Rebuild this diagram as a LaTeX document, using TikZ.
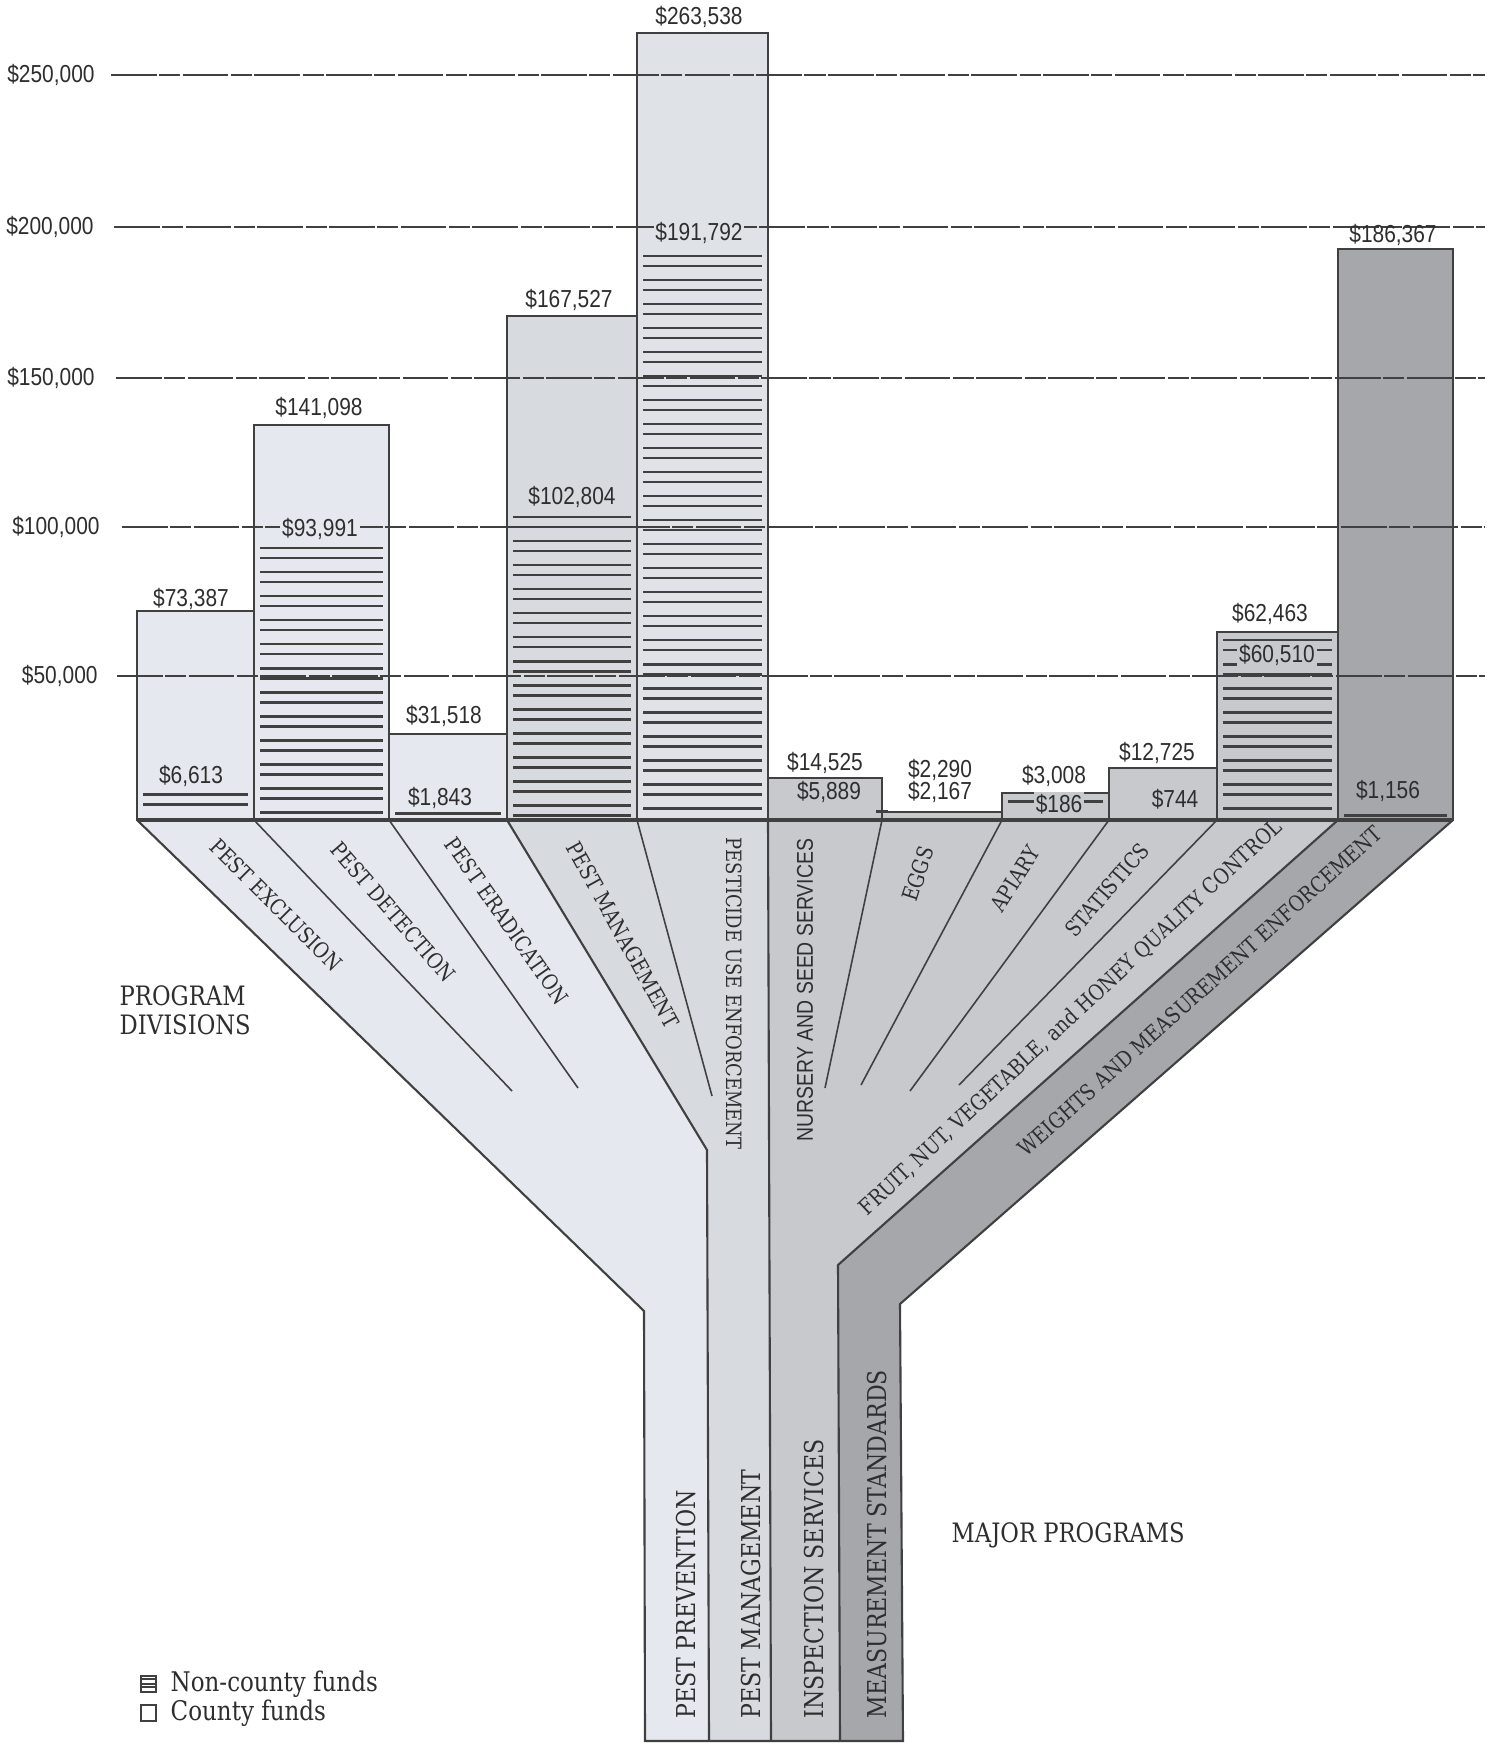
\documentclass[tikz,border=0pt]{standalone}
\usepackage{fontspec}
\setmainfont{DejaVu Serif}
\newfontfamily\valfont[FakeStretch=0.85]{Liberation Sans}
\newfontfamily\labfont[FakeStretch=0.85]{DejaVu Serif}
\usetikzlibrary{positioning}

\definecolor{ink}{HTML}{404040}
\definecolor{textink}{HTML}{2E2E2E}
\definecolor{prevfill}{HTML}{E5E8EE}
\definecolor{mgmtfill}{HTML}{D7DADF}
\definecolor{pestfill}{HTML}{DFE2E7}
\definecolor{inspfill}{HTML}{C7C9CD}
\definecolor{measfill}{HTML}{A5A7AB}

\tikzstyle{barbox} = [draw=ink, line width=0.6pt]
\tikzstyle{hatch} = [draw=ink, line width=0.85pt]
\tikzstyle{outline} = [draw=ink, line width=0.6pt]
\tikzstyle{divider} = [draw=ink, line width=0.45pt]
\tikzstyle{gridline} = [draw=ink, line width=0.4pt, dash pattern=on 13pt off 0.7pt on 6pt off 0.7pt]
\tikzstyle{amount} = [font=\valfont\fontsize{7}{8}\selectfont, text=textink, inner sep=0.5pt]
\tikzstyle{axislabel} = [amount, anchor=east]
\tikzstyle{branch} = [font=\labfont\fontsize{6.2}{7}\selectfont, text=textink, inner sep=0pt]
\tikzstyle{trunk} = [font=\labfont\fontsize{7.4}{8}\selectfont, text=textink, inner sep=0pt, rotate=90, anchor=west]
\tikzstyle{titletext} = [font=\labfont\fontsize{7.6}{8.2}\selectfont, text=textink, align=left, anchor=west, inner sep=0pt]
\tikzstyle{legendtext} = [font=\labfont\fontsize{7.7}{8.2}\selectfont, text=textink, anchor=west, inner sep=0pt]
\tikzstyle{swatch} = [draw=ink, line width=0.5pt, minimum width=1.5mm, minimum height=1.6mm, inner sep=0pt]

\newcommand{\hatchbar}[3]{%
  \foreach \k in {0,...,30}{%
    \pgfmathsetmacro{\ya}{#3+24*\k}%
    \pgfmathsetmacro{\yb}{#3+24*\k+10}%
    \ifdim\ya pt<816pt\relax \draw[hatch] (#1+6,\ya) -- (#2-6,\ya);\fi
    \ifdim\yb pt<816pt\relax \draw[hatch] (#1+6,\yb) -- (#2-6,\yb);\fi
  }%
}

\begin{document}
\begin{tikzpicture}[x=0.1mm, y=-0.1mm]

	\useasboundingbox (0,0) rectangle (1489,1745);
	\fill[white] (0,0) rectangle (1489,1745);

	\coordinate (b0) at (137,820);
	\coordinate (b1) at (254,820);
	\coordinate (b2) at (389,820);
	\coordinate (b3) at (507,820);
	\coordinate (b4) at (637,820);
	\coordinate (b5) at (768,820);
	\coordinate (b6) at (882,820);
	\coordinate (b7) at (1002,820);
	\coordinate (b8) at (1109,820);
	\coordinate (b9) at (1217,820);
	\coordinate (b10) at (1338,820);
	\coordinate (b11) at (1453,820);

	\coordinate (lc) at (644,1311);
	\coordinate (lb) at (645,1741);
	\coordinate (pk) at (707,1150);
	\coordinate (pb) at (709,1741);
	\coordinate (mb) at (771,1741);
	\coordinate (mk) at (838,1265);
	\coordinate (mkb) at (840,1741);
	\coordinate (rc) at (900,1304);
	\coordinate (rb) at (903,1741);

	\coordinate (d1) at (512,1091);
	\coordinate (d2) at (578,1088);
	\coordinate (d4) at (712,1096);
	\coordinate (d6) at (825,1088);
	\coordinate (d7) at (861,1085);
	\coordinate (d8) at (910,1091);
	\coordinate (d9) at (959,1085);

	\fill[prevfill] (b0) -- (b3) -- (pk) -- (pb) -- (lb) -- (lc) -- cycle;
	\fill[mgmtfill] (b3) -- (b5) -- (mb) -- (pb) -- (pk) -- cycle;
	\fill[inspfill] (b5) -- (b10) -- (mk) -- (mkb) -- (mb) -- cycle;
	\fill[measfill] (b10) -- (b11) -- (rc) -- (rb) -- (mkb) -- (mk) -- cycle;

	\filldraw[barbox, fill=prevfill] (b0) rectangle (254,611);
	\filldraw[barbox, fill=prevfill] (b1) rectangle (389,425);
	\filldraw[barbox, fill=prevfill] (b2) rectangle (507,734);
	\filldraw[barbox, fill=mgmtfill] (b3) rectangle (637,316);
	\filldraw[barbox, fill=pestfill] (b4) rectangle (768,33);
	\filldraw[barbox, fill=inspfill] (b5) rectangle (882,778);
	\filldraw[barbox, fill=inspfill] (b6) rectangle (1002,812);
	\filldraw[barbox, fill=inspfill] (b7) rectangle (1109,793);
	\filldraw[barbox, fill=inspfill] (b8) rectangle (1217,768);
	\filldraw[barbox, fill=inspfill] (b9) rectangle (1338,632);
	\filldraw[barbox, fill=measfill] (b10) rectangle (1453,249);

	\hatchbar{137}{254}{794}
	\hatchbar{254}{389}{548}
	\hatchbar{389}{507}{813}
	\hatchbar{507}{637}{517}
	\hatchbar{637}{768}{256}
	\hatchbar{1217}{1338}{640}
	\draw[hatch] (888,811) -- (876,811);
	\draw[hatch] (1008,801) -- (1103,801);
	\draw[hatch] (1344,815) -- (1447,815);

	\draw[outline] (b0) -- (lc) -- (lb) -- (rb) -- (rc) -- (b11);
	\draw[outline] (b3) -- (pk) -- (pb);
	\draw[outline] (b5) -- (mb);
	\draw[outline] (b10) -- (mk) -- (mkb);
	\draw[outline, line width=1pt] (b0) -- (b11);

	\draw[divider] (b1) -- (d1);
	\draw[divider] (b2) -- (d2);
	\draw[divider] (b4) -- (d4);
	\draw[divider] (b6) -- (d6);
	\draw[divider] (b7) -- (d7);
	\draw[divider] (b8) -- (d8);
	\draw[divider] (b9) -- (d9);

	\draw[gridline] (111,75) -- (1485,75);
	\draw[gridline] (114,227) -- (1485,227);
	\draw[gridline] (116,378) -- (1485,378);
	\draw[gridline] (122,527) -- (1485,527);
	\draw[gridline] (117,676) -- (1485,676);

	\node (g250) [axislabel] at (97,75) {\$250,000};
	\node (g200) [axislabel] at (96,227) {\$200,000};
	\node (g150) [axislabel] at (97,378) {\$150,000};
	\node (g100) [axislabel] at (102,527) {\$100,000};
	\node (g50) [axislabel] at (100,676) {\$50,000};

	\node (exclTotal) [amount] at (191,599) {\$73,387};
	\node (exclNon) [amount] at (191,776) {\$6,613};
	\node (detTotal) [amount] at (319,408) {\$141,098};
	\node (detNon) [amount, fill=prevfill] at (320,529) {\$93,991};
	\node (eradTotal) [amount] at (444,716) {\$31,518};
	\node (eradNon) [amount] at (440,798) {\$1,843};
	\node (mgmtTotal) [amount] at (569,300) {\$167,527};
	\node (mgmtNon) [amount] at (572,497) {\$102,804};
	\node (pestTotal) [amount] at (699,17) {\$263,538};
	\node (pestNon) [amount, fill=pestfill] at (699,233) {\$191,792};
	\node (nurTotal) [amount] at (825,763) {\$14,525};
	\node (nurNon) [amount] at (829,792) {\$5,889};
	\node (eggTotal) [amount] at (940,770) {\$2,290};
	\node (eggNon) [amount] at (940,792) {\$2,167};
	\node (apiTotal) [amount] at (1054,776) {\$3,008};
	\node (apiNon) [amount, fill=inspfill] at (1059,804) {\$186};
	\node (statTotal) [amount] at (1157,753) {\$12,725};
	\node (statNon) [amount] at (1175,799) {\$744};
	\node (fruitTotal) [amount] at (1270,614) {\$62,463};
	\node (fruitNon) [amount, fill=inspfill] at (1277,655) {\$60,510};
	\node (wmTotal) [amount] at (1393,235) {\$186,367};
	\node (wmNon) [amount] at (1388,791) {\$1,156};

	\node (exclusion) [branch, rotate=-45] at (276,905) {PEST EXCLUSION};
	\node (detection) [branch, rotate=-49] at (393,912) {PEST DETECTION};
	\node (eradication) [branch, rotate=-55] at (507,921) {PEST ERADICATION};
	\node (management) [branch, rotate=-61] at (623,935) {PEST MANAGEMENT};
	\node (pesticide) [branch, font=\labfont\fontsize{6}{7}\selectfont, rotate=-90, anchor=west] at (734,837) {PESTICIDE USE ENFORCEMENT};
	\node (nursery) [branch, font=\valfont\fontsize{6.5}{7}\selectfont, rotate=90, anchor=east] at (805,838) {NURSERY AND SEED SERVICES};
	\node (eggs) [branch, rotate=72] at (918,874) {EGGS};
	\node (apiary) [branch, rotate=58] at (1015,879) {APIARY};
	\node (statistics) [branch, rotate=49] at (1107,890) {STATISTICS};
	\node (fruit) [branch, rotate=43] at (1071,1018) {FRUIT, NUT, VEGETABLE, and HONEY QUALITY CONTROL};
	\node (weights) [branch, rotate=42] at (1200,991) {WEIGHTS AND MEASUREMENT ENFORCEMENT};

	\node (prevention) [trunk] at (686,1719) {PEST PREVENTION};
	\node (pestmgmt) [trunk] at (751,1719) {PEST MANAGEMENT};
	\node (inspection) [trunk] at (814,1719) {INSPECTION SERVICES};
	\node (measurement) [trunk] at (877,1719) {MEASUREMENT STANDARDS};

	\node (divisions) [titletext] at (119,1010) {PROGRAM\\DIVISIONS};
	\node (majors) [titletext] at (951,1535) {MAJOR PROGRAMS};

	\node (noncounty) [legendtext] at (170,1684) {Non-county funds};
	\node (county) [legendtext] at (170,1713) {County funds};
	\node (ncbox) [swatch, left=1.3mm of noncounty] {};
	\node (cbox) [swatch, left=1.3mm of county] {};
	\draw[line width=0.6pt, ink] ([yshift=-1.2pt]ncbox.north west) -- ([yshift=-1.2pt]ncbox.north east);
	\draw[line width=0.6pt, ink] ([yshift=-2.4pt]ncbox.north west) -- ([yshift=-2.4pt]ncbox.north east);
	\draw[line width=0.6pt, ink] ([yshift=-3.4pt]ncbox.north west) -- ([yshift=-3.4pt]ncbox.north east);

\end{tikzpicture}
\end{document}
